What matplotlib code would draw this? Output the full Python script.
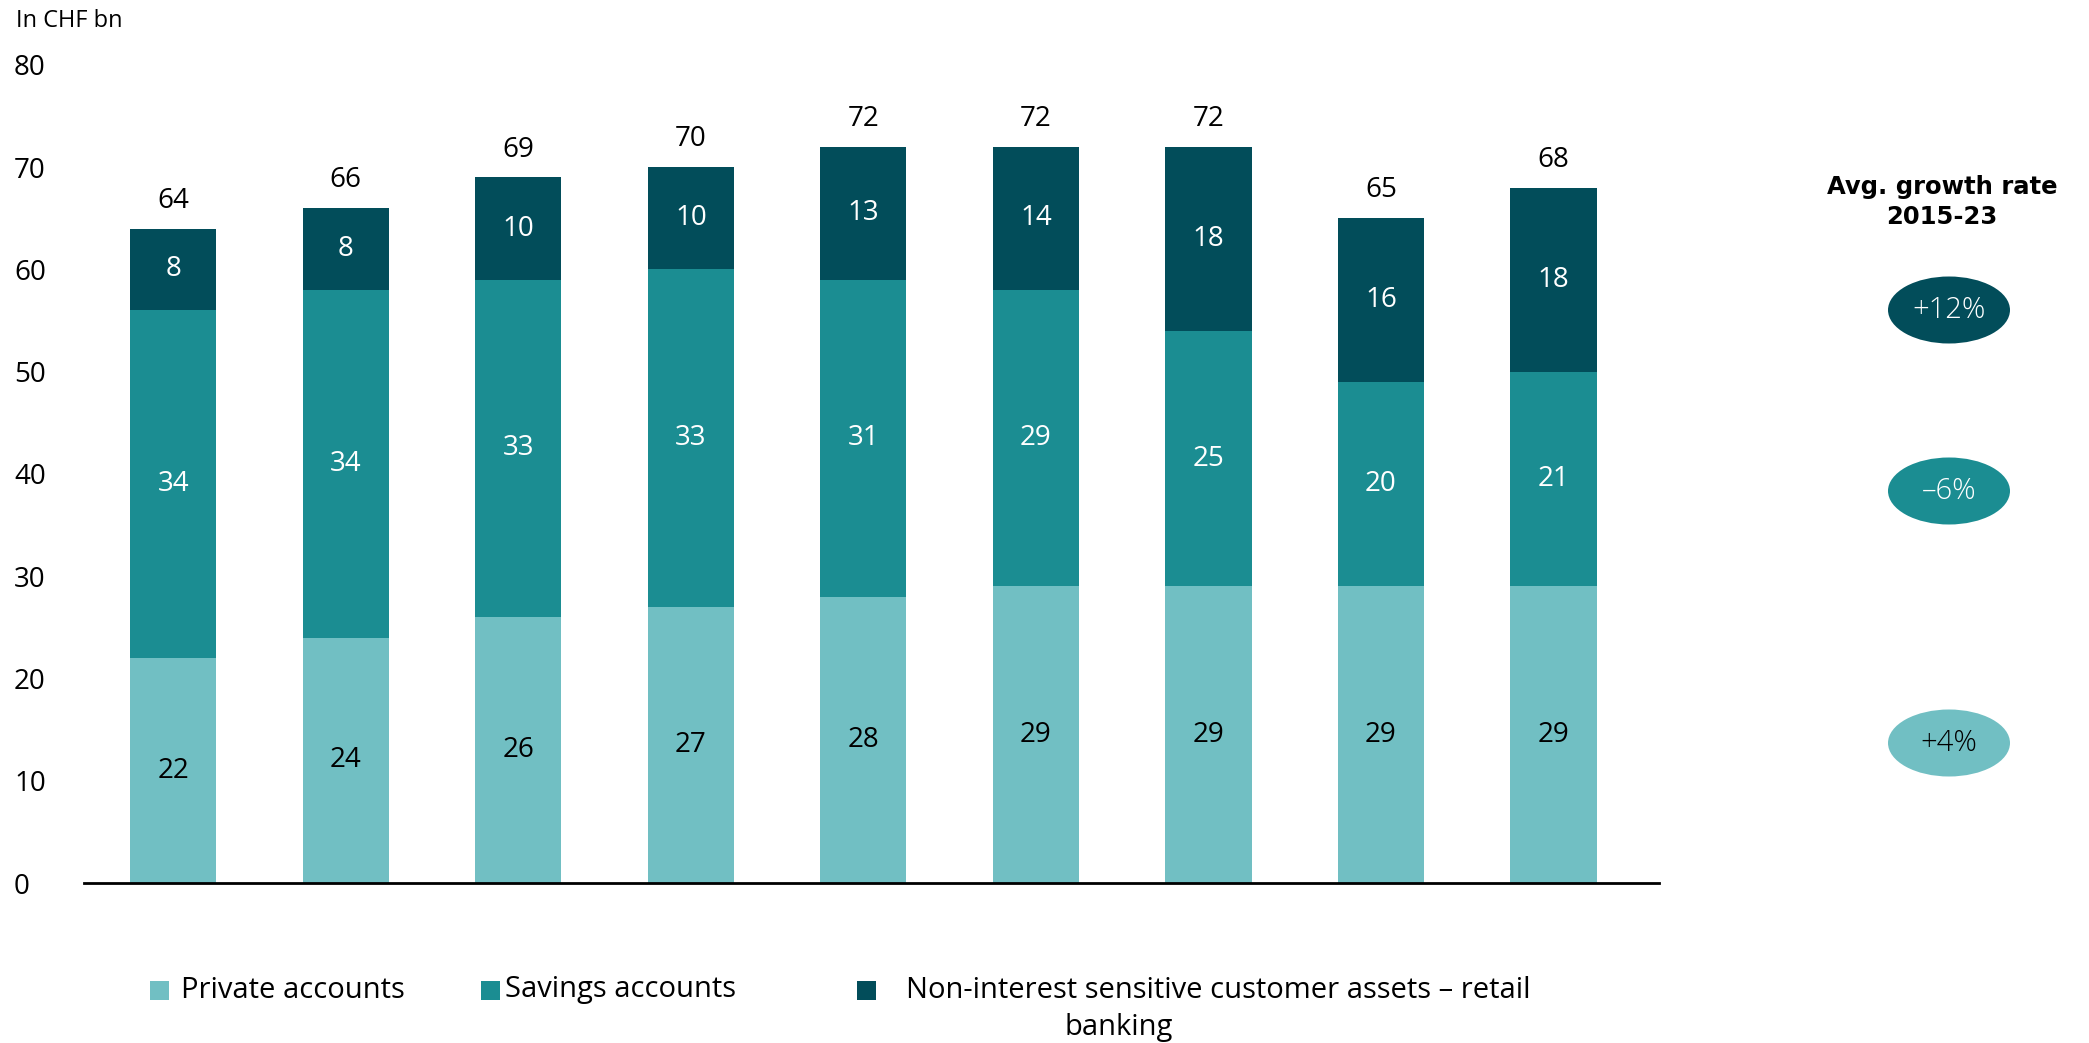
import matplotlib
matplotlib.use("Agg")
import matplotlib.pyplot as plt
from matplotlib.patches import Ellipse, Rectangle
import numpy as np

plt.rcParams['font.family'] = ['Open Sans', 'DejaVu Sans']

# data (CHF bn)
private = [22, 24, 26, 27, 28, 29, 29, 29, 29]
savings = [34, 34, 33, 33, 31, 29, 25, 20, 21]
non_interest = [8, 8, 10, 10, 13, 14, 18, 16, 18]
totals = [64, 66, 69, 70, 72, 72, 72, 65, 68]
growth_labels = ["+12%", "\u20136%", "+4%"]
series_names = ["Private accounts", "Savings accounts",
                "Non-interest sensitive customer assets \u2013 retail", "banking"]

c_light = "#71BFC3"
c_mid = "#1B8D92"
c_dark = "#024D5A"

W, H = 2089, 1043
fig = plt.figure(figsize=(W / 100, H / 100), dpi=100)
ax = fig.add_axes([0.040, 0.1534, 0.754, 0.7843])

x = np.arange(len(private))
w = 0.5
b1 = ax.bar(x, private, w, color=c_light)
b2 = ax.bar(x, savings, w, bottom=private, color=c_mid)
bottom3 = np.array(private) + np.array(savings)
b3 = ax.bar(x, non_interest, w, bottom=bottom3, color=c_dark)

ax.bar_label(b1, labels=[str(v) for v in private], label_type='center', fontsize=20, color='black')
ax.bar_label(b2, labels=[str(v) for v in savings], label_type='center', fontsize=20, color='white')
ax.bar_label(b3, labels=[str(v) for v in non_interest], label_type='center', fontsize=20, color='white')
ax.bar_label(b3, labels=[str(v) for v in totals], padding=10, fontsize=20, color='black')

ax.set_xlim(-0.52, 8.61)
ax.set_ylim(0, 80)
ax.set_yticks(range(0, 81, 10))
ax.tick_params(axis='y', length=0, pad=50, labelsize=20)
for lab in ax.get_yticklabels():
    lab.set_ha('left')
ax.set_xticks([])
for s in ['top', 'right', 'left']:
    ax.spines[s].set_visible(False)
ax.spines['bottom'].set_linewidth(2)
ax.spines['bottom'].set_color('black')

fig.text(16 / W, 1 - 21 / H, "In CHF bn", fontsize=17, va='center', ha='left')

# growth rate column
fig.text(1942 / W, 1 - 202 / H, "Avg. growth rate\n2015-23", fontsize=17.5, fontweight='bold',
         family='DejaVu Sans', ha='center', va='center', linespacing=1.35)
ell_y = [310, 491, 743]
ell_c = [c_dark, c_mid, c_light]
txt_c = ['white', 'white', 'black']
for yy, cc, tt, tc in zip(ell_y, ell_c, growth_labels, txt_c):
    e = Ellipse((1949 / W, 1 - yy / H), 122 / W, 67 / H, transform=fig.transFigure,
                facecolor=cc, edgecolor='none')
    fig.patches.append(e)
    fig.text(1949 / W, 1 - yy / H, tt, fontsize=21, color=tc, ha='center', va='center',
             fontweight='light')

# legend drawn by hand to keep the wrapped third label
leg_y = 1 - 990 / H
sq = 19
for sx, tx, cc, name in [(150, 181, c_light, series_names[0]),
                         (481, 505, c_mid, series_names[1]),
                         (857, 906, c_dark, series_names[2])]:
    fig.patches.append(Rectangle((sx / W, leg_y - sq / 2 / H), sq / W, sq / H,
                                 transform=fig.transFigure, facecolor=cc, edgecolor='none'))
    fig.text(tx / W, leg_y, name, fontsize=21, ha='left', va='center')
fig.text(1119 / W, 1 - 1027 / H, series_names[3], fontsize=21, ha='center', va='center')

fig.savefig("out.png", dpi=100)
